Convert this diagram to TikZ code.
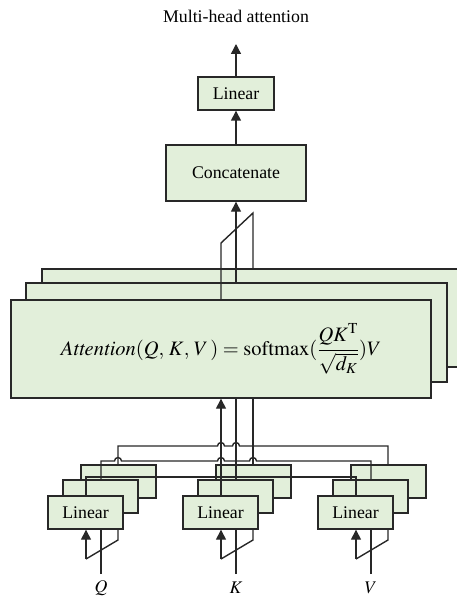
\documentclass[tikz,border=0pt]{standalone}
\usepackage{mathptmx}
\usepackage{fontspec}
\setmainfont{Liberation Serif}
\usetikzlibrary{arrows.meta}
\definecolor{boxfill}{RGB}{226,239,218}
\definecolor{lin}{RGB}{40,40,40}
\tikzset{
 box/.style={draw=lin, fill=boxfill, line width=1.4pt, inner sep=0pt},
 lbox/.style={box, minimum width=75pt, minimum height=33pt},
 wire/.style={draw=lin, line width=1.4pt},
 arr/.style={wire, -{Triangle[length=10pt,width=10pt]}},
 lbl/.style={font=\fontsize{17.8}{21}\selectfont},
 fml/.style={font=\fontsize{20.5}{24}\selectfont}
}
\begin{document}
\begin{tikzpicture}[x=1pt,y=-1pt]
\useasboundingbox (0,0) rectangle (456,599);
% top part
\node[lbl] (title) at (236,16) {Multi-head attention};
\coordinate (out) at (236,44);
\node[box, minimum width=76pt, minimum height=33pt, lbl] (lin) at (236,93.5) {Linear};
\node[box, minimum width=140pt, minimum height=56pt, lbl] (cat) at (236,173) {Concatenate};
% attention heads
\node[box, minimum width=421pt, minimum height=98pt] (h3) at (252.5,318) {};
\node[box, minimum width=421pt, minimum height=99pt] (h2) at (236.5,332.5) {};
\node[box, minimum width=420pt, minimum height=98pt, fml] (h1) at (221,349)
  {$\mathit{Attention}(Q,\,K,\,V\,)=\mathrm{softmax}(\displaystyle\frac{QK^{\mathrm{T}}}{\sqrt{d_K}})V$};
\coordinate (ha) at (221,243);
\coordinate (hb) at (253,213);
\draw[arr] (lin.north) -- (out);
\draw[arr] (cat.north) -- (lin.south);
\draw[arr] (h2.north -| cat.south) -- (cat.south);
\draw[wire] (h1.north -| ha) -- (ha) -- (hb) -- (h3.north -| hb);
% linear groups
\node[lbox] (q3) at (118.5,481.5) {};
\node[lbox] (q2) at (100.5,496.5) {};
\node[lbox,lbl] (q1) at (85.5,512.5) {Linear};
\node[lbox] (k3) at (253.5,481.5) {};
\node[lbox] (k2) at (235.5,496.5) {};
\node[lbox,lbl] (k1) at (220.5,512.5) {Linear};
\node[lbox] (v3) at (388.5,481.5) {};
\node[lbox] (v2) at (370.5,496.5) {};
\node[lbox,lbl] (v1) at (355.5,512.5) {Linear};
% inputs
\node[lbl] (Q) at (101,588) {$Q$};
\node[lbl] (K) at (236,588) {$K$};
\node[lbl] (V) at (371,588) {$V$};
\coordinate (qin) at (101,574); \coordinate (qd1) at (86,559); \coordinate (qd2) at (118,540);
\coordinate (kin) at (236,574); \coordinate (kd1) at (221,559); \coordinate (kd2) at (253,540);
\coordinate (vin) at (371,574); \coordinate (vd1) at (356,559); \coordinate (vd2) at (388,540);
\foreach \g in {q,k,v}{
  \draw[wire] (\g in) -- (\g in |- \g 1.south);
  \draw[arr] (\g d1) -- (\g d1 |- \g 1.south);
  \draw[wire] (\g d1) -- (\g d2) -- (\g d2 |- \g 1.south);
}
% bus lines
\coordinate (L1) at (0,477);
\coordinate (L2) at (0,461);
\coordinate (L3) at (0,446);
\draw[wire] (qd1 |- q1.north) -- (qd1 |- L1) -- (vd1 |- L1) -- (vd1 |- v1.north);
\draw[wire] (qin |- q2.north) -- (qin |- L2)
  -- ([xshift=-3.5pt]qd2 |- L2) arc[start angle=180,end angle=0,radius=3.5pt]
  -- ([xshift=-3.5pt]kd1 |- L2) arc[start angle=180,end angle=0,radius=3.5pt]
  -- ([xshift=-3.5pt]kd2 |- L2) arc[start angle=180,end angle=0,radius=3.5pt]
  -- (vin |- L2) -- (vin |- v2.north);
\draw[wire] (qd2 |- q3.north) -- (qd2 |- L3)
  -- ([xshift=-3.5pt]kd1 |- L3) arc[start angle=180,end angle=0,radius=3.5pt]
  -- ([xshift=-3.5pt]kin |- L3) arc[start angle=180,end angle=0,radius=3.5pt]
  -- (vd2 |- L3) -- (vd2 |- v3.north);
\draw[arr] (kd1 |- k1.north) -- (kd1 |- h1.south);
\draw[wire] (kin |- k2.north) -- (kin |- h1.south);
\draw[wire] (kd2 |- k3.north) -- (kd2 |- h1.south);
\end{tikzpicture}
\end{document}
